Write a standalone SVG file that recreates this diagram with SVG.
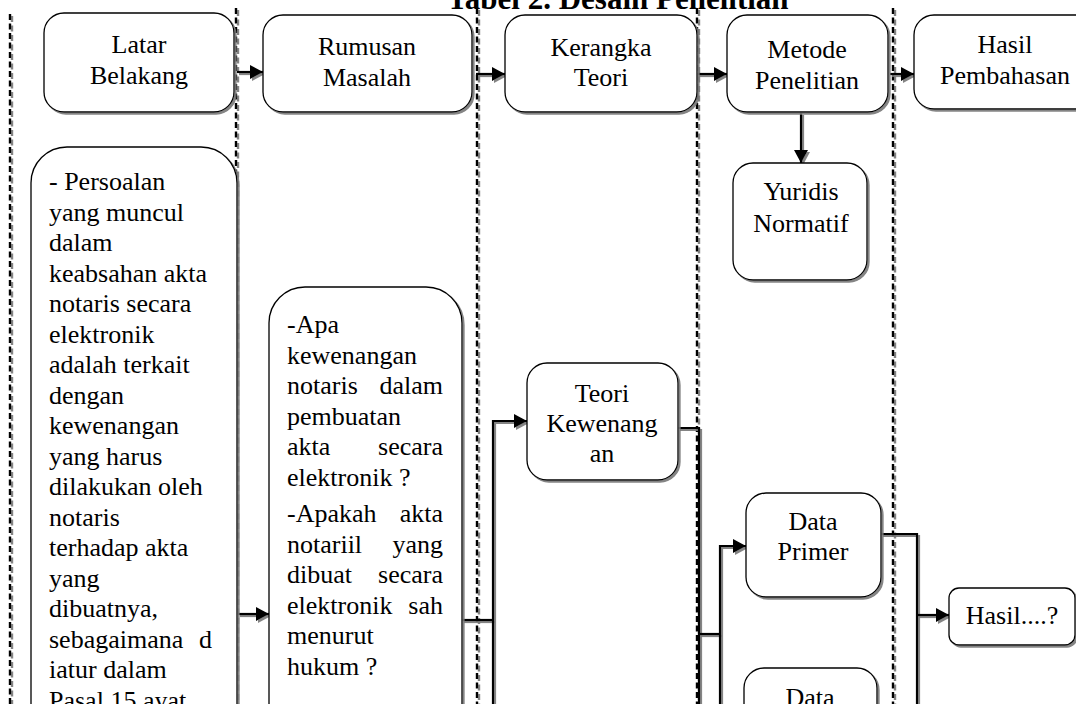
<svg xmlns="http://www.w3.org/2000/svg" width="1076" height="704" viewBox="0 0 1076 704">
<defs>
<filter id="sh" filterUnits="userSpaceOnUse" x="-20" y="-20" width="1140" height="780">
<feDropShadow dx="2" dy="2" stdDeviation="0.7" flood-color="#777" flood-opacity="0.9"/>
</filter>
<marker id="ah" viewBox="0 0 13 14" refX="13" refY="7" markerWidth="13" markerHeight="14" markerUnits="userSpaceOnUse" orient="auto">
<path d="M0,0 L13,7 L0,14 z" fill="#000"/>
</marker>
<style>
.box{fill:#fff;stroke:#000;stroke-width:1.3;filter:url(#sh)}
.t{font-family:"Liberation Serif","Times New Roman",serif;font-size:26px;fill:#000}
.c{text-anchor:middle}
.e{text-anchor:end}
.lane{stroke:#000;stroke-width:2.4;stroke-dasharray:6 3.5;fill:none;filter:url(#sh)}
.con{stroke:#000;stroke-width:2.2;fill:none;filter:url(#sh)}
.title{font-family:"Liberation Serif","Times New Roman",serif;font-size:31px;font-weight:bold;fill:#000}
</style>
</defs>
<rect width="1076" height="704" fill="#fff"/>
<text class="title" x="447" y="9">Tabel 2. Desain Penelitian</text>
<g id="lanes">
<line class="lane" x1="10" y1="14" x2="10" y2="704"/>
<line class="lane" x1="236" y1="8" x2="236" y2="704"/>
<line class="lane" x1="477" y1="8" x2="477" y2="704"/>
<line class="lane" x1="697" y1="8" x2="697" y2="704"/>
<line class="lane" x1="893" y1="8" x2="893" y2="704"/>
</g>
<g id="connectors">
<path class="con" d="M237,72 H263" marker-end="url(#ah)"/>
<path class="con" d="M476,74 H505" marker-end="url(#ah)"/>
<path class="con" d="M697,74 H727" marker-end="url(#ah)"/>
<path class="con" d="M890,74 H914" marker-end="url(#ah)"/>
<path class="con" d="M801,113 V163" marker-end="url(#ah)"/>
<path class="con" d="M238,614 H269" marker-end="url(#ah)"/>
<path class="con" d="M462,620 H493"/>
<path class="con" d="M493,710 V421 H527" marker-end="url(#ah)"/>
<path class="con" d="M678,428 H699 V710"/>
<path class="con" d="M699,634 H720"/>
<path class="con" d="M720,710 V546 H746" marker-end="url(#ah)"/>
<path class="con" d="M881,534 H917 V710"/>
<path class="con" d="M917,615 H949" marker-end="url(#ah)"/>
</g>
<g id="latar">
<rect class="box" x="44" y="13" width="190" height="99" rx="20"/>
<text class="t c" x="139" y="53">Latar</text>
<text class="t c" x="139" y="84">Belakang</text>
</g>
<g id="rumusan">
<rect class="box" x="263" y="15" width="209" height="97" rx="20"/>
<text class="t c" x="367" y="55">Rumusan</text>
<text class="t c" x="367" y="86">Masalah</text>
</g>
<g id="kerangka">
<rect class="box" x="505" y="15" width="192" height="97" rx="20"/>
<text class="t c" x="601" y="56">Kerangka</text>
<text class="t c" x="601" y="86">Teori</text>
</g>
<g id="metode">
<rect class="box" x="727" y="15" width="161" height="97" rx="20"/>
<text class="t c" x="807" y="58">Metode</text>
<text class="t c" x="807" y="89">Penelitian</text>
</g>
<g id="hasil-pembahasan">
<rect class="box" x="914" y="15" width="182" height="94" rx="20"/>
<text class="t c" x="1005" y="53">Hasil</text>
<text class="t c" x="1005" y="84">Pembahasan</text>
</g>
<g id="yuridis">
<rect class="box" x="733" y="163" width="134" height="117" rx="20"/>
<text class="t c" x="801" y="200">Yuridis</text>
<text class="t c" x="801" y="232">Normatif</text>
</g>
<g id="latar-detail">
<rect class="box" x="31" y="147" width="206" height="600" rx="36"/>
<text class="t" x="49" y="190">- Persoalan</text>
<text class="t" x="49" y="220.5">yang muncul</text>
<text class="t" x="49" y="251">dalam</text>
<text class="t" x="49" y="281.5">keabsahan akta</text>
<text class="t" x="49" y="312">notaris secara</text>
<text class="t" x="49" y="342.5">elektronik</text>
<text class="t" x="49" y="373">adalah terkait</text>
<text class="t" x="49" y="403.5">dengan</text>
<text class="t" x="49" y="434">kewenangan</text>
<text class="t" x="49" y="464.5">yang harus</text>
<text class="t" x="49" y="495">dilakukan oleh</text>
<text class="t" x="49" y="525.5">notaris</text>
<text class="t" x="49" y="556">terhadap akta</text>
<text class="t" x="49" y="586.5">yang</text>
<text class="t" x="49" y="617">dibuatnya,</text>
<text class="t" x="49" y="647.5">sebagaimana</text>
<text class="t e" x="212" y="647.5">d</text>
<text class="t" x="49" y="678">iatur dalam</text>
<text class="t" x="49" y="708.5">Pasal 15 ayat</text>
</g>
<g id="rumusan-detail">
<rect class="box" x="269" y="287" width="193" height="460" rx="36"/>
<text class="t" x="287" y="333">-Apa</text>
<text class="t" x="287" y="363.5">kewenangan</text>
<text class="t" x="287" y="394">notaris</text>
<text class="t e" x="443" y="394">dalam</text>
<text class="t" x="287" y="424.5">pembuatan</text>
<text class="t" x="287" y="455">akta</text>
<text class="t e" x="443" y="455">secara</text>
<text class="t" x="287" y="485.5">elektronik ?</text>
<text class="t" x="287" y="522">-Apakah</text>
<text class="t e" x="443" y="522">akta</text>
<text class="t" x="287" y="552.5">notariil</text>
<text class="t e" x="443" y="552.5">yang</text>
<text class="t" x="287" y="583">dibuat</text>
<text class="t e" x="443" y="583">secara</text>
<text class="t" x="287" y="613.5">elektronik</text>
<text class="t e" x="443" y="613.5">sah</text>
<text class="t" x="287" y="644">menurut</text>
<text class="t" x="287" y="674.5">hukum ?</text>
</g>
<g id="teori-kewenangan">
<rect class="box" x="527" y="363" width="151" height="117" rx="20"/>
<text class="t c" x="602" y="402">Teori</text>
<text class="t c" x="602" y="432">Kewenang</text>
<text class="t c" x="602" y="462">an</text>
</g>
<g id="data-primer">
<rect class="box" x="746" y="493" width="135" height="104" rx="20"/>
<text class="t c" x="813" y="530">Data</text>
<text class="t c" x="813" y="560">Primer</text>
</g>
<g id="data-2">
<rect class="box" x="744" y="668" width="133" height="104" rx="20"/>
<text class="t c" x="810" y="706">Data</text>
</g>
<g id="hasil">
<rect class="box" x="949" y="588" width="126" height="57" rx="10"/>
<text class="t c" x="1012" y="624">Hasil....?</text>
</g>
</svg>
